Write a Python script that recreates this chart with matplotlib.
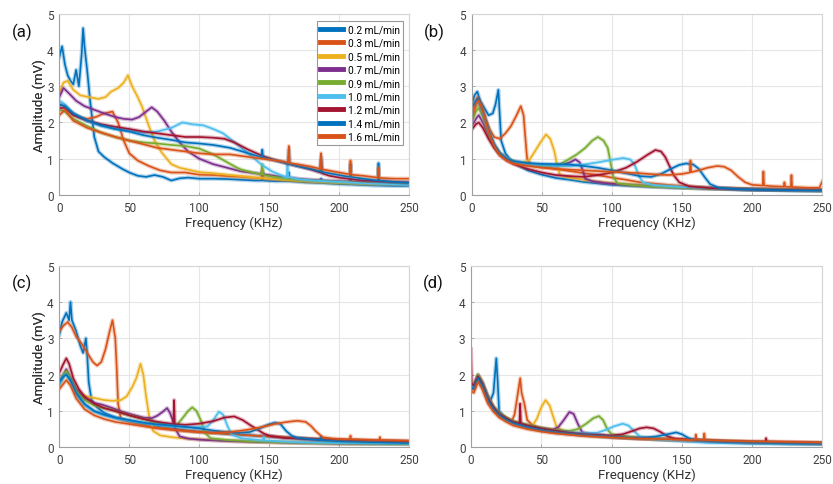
import matplotlib
matplotlib.use("Agg")
import matplotlib.pyplot as plt
from matplotlib.lines import Line2D

plt.rcParams['font.family'] = ['Roboto', 'DejaVu Sans']

labels = ['0.2 mL/min', '0.3 mL/min', '0.5 mL/min', '0.7 mL/min', '0.9 mL/min',
          '1.0 mL/min', '1.2 mL/min', '1.4 mL/min', '1.6 mL/min']
colors = ['#0072BD', '#D95319', '#EDB120', '#7E2F8E', '#77AC30',
          '#4DBEEE', '#A2142F', '#0072BD', '#D95319']
panel_names = ['(a)', '(b)', '(c)', '(d)']
x_ticks = [0, 50, 100, 150, 200, 250]
y_ticks = [0, 1, 2, 3, 4, 5]

# ---------------- panel (a): (frequency kHz, amplitude mV) ----------------
a_02 = [(0,3.8),(2,4.1),(4,3.6),(6,3.3),(8,3.15),(10,3.05),(12,3.45),(14,3.0),(16,3.9),(17,4.6),(18,4.1),(20,3.4),(22,2.6),(25,1.6),(28,1.2),(32,1.05),(38,0.88),(45,0.72),(50,0.62),(56,0.53),(62,0.5),(68,0.55),(74,0.5),(80,0.4),(86,0.46),(92,0.48),(100,0.45),(110,0.45),(120,0.44),(130,0.42),(140,0.4),(144.5,0.4),(145,0.65),(145.5,0.4),(155,0.38),(163.5,0.38),(164,0.62),(164.5,0.38),(175,0.35),(186.5,0.33),(187,0.45),(187.5,0.33),(200,0.3),(207.5,0.29),(208,0.42),(208.5,0.29),(220,0.27),(227.5,0.26),(228,0.38),(228.5,0.26),(240,0.25),(250,0.25)]
a_03 = [(0,2.5),(4,2.45),(8,2.3),(14,2.15),(20,2.1),(26,2.15),(32,2.25),(38,2.3),(42,2.0),(46,1.5),(50,1.15),(56,0.95),(64,0.8),(72,0.68),(80,0.62),(90,0.62),(100,0.56),(110,0.55),(120,0.52),(130,0.5),(140,0.47),(144.5,0.46),(145,0.7),(145.5,0.46),(160,0.42),(175,0.38),(190,0.36),(200,0.34),(220,0.32),(235,0.3),(250,0.3)]
a_05 = [(0,2.8),(3,3.1),(6,3.15),(10,2.9),(15,2.75),(21,2.7),(28,2.65),(33,2.7),(37,2.85),(42,2.95),(46,3.1),(49,3.3),(52,3.0),(56,2.7),(59,2.45),(64,1.9),(68,1.5),(73,1.18),(80,0.85),(86,0.75),(92,0.7),(100,0.63),(110,0.6),(120,0.56),(130,0.52),(140,0.48),(145,0.47),(150,0.45),(160,0.42),(175,0.38),(190,0.35),(210,0.32),(230,0.3),(250,0.3)]
a_07 = [(0,2.7),(3,2.95),(7,2.8),(12,2.6),(18,2.45),(25,2.35),(32,2.25),(40,2.15),(46,2.1),(52,2.08),(57,2.15),(62,2.3),(66,2.42),(70,2.3),(75,2.05),(80,1.75),(86,1.45),(92,1.2),(100,1.0),(110,0.85),(120,0.75),(130,0.65),(140,0.6),(150,0.55),(160,0.5),(170,0.45),(180,0.42),(200,0.38),(220,0.35),(250,0.3)]
a_09 = [(0,2.35),(4,2.3),(10,2.1),(20,1.9),(30,1.72),(40,1.6),(50,1.5),(60,1.45),(70,1.42),(80,1.38),(90,1.35),(100,1.28),(110,1.12),(120,0.9),(127,0.75),(130,0.7),(140,0.6),(144.5,0.57),(145,0.85),(145.5,0.56),(150,0.52),(160,0.46),(170,0.42),(180,0.4),(200,0.36),(220,0.33),(250,0.3)]
a_10 = [(0,2.6),(4,2.5),(10,2.25),(20,2.05),(30,1.9),(40,1.82),(50,1.78),(60,1.72),(70,1.75),(80,1.85),(88,2.0),(95,1.95),(103,1.92),(110,1.82),(117,1.7),(122,1.55),(130,1.3),(138,1.05),(145,0.82),(152,0.65),(158,0.55),(162.5,0.48),(163,0.9),(163.5,0.5),(170,0.44),(180,0.4),(200,0.36),(220,0.32),(250,0.28)]
a_12 = [(0,2.4),(4,2.4),(10,2.2),(20,2.05),(30,1.95),(40,1.88),(50,1.82),(60,1.75),(70,1.7),(80,1.65),(90,1.6),(100,1.6),(110,1.58),(118,1.55),(125,1.45),(135,1.25),(145,1.08),(155,0.95),(165,0.85),(170,0.8),(180,0.7),(186.5,0.62),(187,0.95),(187.5,0.6),(193,0.53),(200,0.48),(210,0.43),(217,0.4),(230,0.38),(246,0.35),(250,0.35)]
a_14 = [(0,2.5),(4,2.45),(10,2.25),(20,2.05),(30,1.92),(40,1.82),(50,1.75),(60,1.65),(70,1.58),(80,1.52),(90,1.45),(100,1.42),(110,1.38),(122,1.3),(135,1.15),(144.5,1.04),(145,1.25),(145.5,1.03),(155,0.95),(163.5,0.86),(164,1.25),(164.5,0.85),(170,0.8),(180,0.72),(186.5,0.65),(187,1.05),(187.5,0.64),(193,0.6),(200,0.55),(207.5,0.5),(208,0.85),(208.5,0.5),(217,0.45),(227.5,0.4),(228,0.88),(228.5,0.4),(240,0.36),(250,0.34)]
a_16 = [(0,2.2),(4,2.35),(10,2.05),(20,1.85),(30,1.72),(40,1.6),(50,1.5),(60,1.4),(70,1.3),(80,1.25),(90,1.2),(100,1.15),(110,1.12),(122,1.12),(135,1.05),(145,1.0),(155,0.95),(163.5,0.9),(164,1.35),(164.5,0.88),(170,0.85),(180,0.78),(186.5,0.72),(187,1.15),(187.5,0.71),(193,0.67),(200,0.62),(207.5,0.57),(208,0.95),(208.5,0.56),(217,0.53),(227.5,0.48),(228,0.75),(228.5,0.47),(240,0.45),(250,0.45)]

# ---------------- panel (b) ----------------
b_02 = [(0,2.5),(2,2.75),(4,2.85),(6,2.6),(9,2.4),(12,2.2),(15,2.25),(17,2.5),(19,2.9),(20,2.2),(21,1.5),(24,1.15),(28,0.95),(34,0.8),(40,0.68),(50,0.56),(60,0.47),(70,0.42),(80,0.36),(90,0.32),(100,0.28),(120,0.24),(140,0.21),(160,0.19),(180,0.17),(200,0.15),(225,0.14),(250,0.13)]
b_03 = [(0,2.2),(2,2.5),(4,2.7),(7,2.5),(10,2.1),(13,1.8),(16,1.6),(20,1.55),(24,1.7),(28,1.9),(32,2.2),(35,2.45),(37,2.2),(38,1.7),(39.5,1.0),(42,0.85),(50,0.78),(60,0.72),(70,0.66),(80,0.6),(90,0.55),(100,0.48),(110,0.42),(120,0.35),(140,0.28),(160,0.22),(180,0.19),(200,0.17),(225,0.15),(250,0.14)]
b_05 = [(0,2.1),(3,2.4),(5,2.5),(8,2.2),(12,1.7),(16,1.35),(20,1.15),(25,1.0),(30,0.92),(36,0.88),(41,0.96),(45,1.2),(49,1.45),(53,1.67),(56,1.55),(59,1.2),(61,0.8),(63,0.55),(70,0.48),(80,0.42),(90,0.37),(100,0.33),(120,0.27),(140,0.23),(160,0.2),(180,0.18),(200,0.16),(225,0.14),(250,0.13)]
b_07 = [(0,1.9),(3,2.1),(5,2.2),(8,2.0),(12,1.65),(16,1.35),(20,1.15),(25,1.0),(30,0.92),(40,0.84),(50,0.8),(60,0.8),(66,0.85),(70,0.9),(74,0.98),(77,0.9),(79,0.7),(81,0.45),(86,0.38),(95,0.33),(110,0.28),(130,0.24),(150,0.2),(175,0.17),(200,0.15),(250,0.12)]
b_09 = [(0,2.0),(3,2.3),(5,2.4),(8,2.15),(12,1.7),(16,1.35),(20,1.15),(25,1.0),(30,0.92),(40,0.84),(50,0.8),(58,0.8),(63,0.85),(69,0.98),(75,1.12),(81,1.3),(86,1.5),(90,1.6),(94,1.5),(97,1.3),(99,0.9),(101,0.5),(104,0.32),(115,0.27),(130,0.23),(150,0.2),(175,0.17),(200,0.15),(250,0.12)]
b_10 = [(0,2.2),(3,2.5),(5,2.55),(8,2.25),(12,1.75),(16,1.4),(20,1.15),(25,1.0),(30,0.92),(40,0.85),(50,0.82),(60,0.8),(70,0.8),(80,0.84),(90,0.9),(100,0.97),(108,1.02),(113,0.98),(116,0.85),(119,0.55),(122,0.35),(130,0.27),(150,0.22),(175,0.18),(200,0.15),(225,0.13),(250,0.12)]
b_12 = [(0,1.8),(3,1.95),(5,2.0),(8,1.85),(12,1.55),(16,1.3),(20,1.1),(25,0.95),(30,0.85),(40,0.72),(50,0.62),(60,0.55),(70,0.52),(80,0.5),(90,0.55),(100,0.62),(110,0.75),(118,0.92),(125,1.1),(131,1.24),(135,1.2),(138,1.05),(141,0.8),(144,0.55),(148,0.35),(155,0.24),(170,0.19),(200,0.15),(225,0.14),(250,0.13)]
b_14 = [(0,2.4),(3,2.6),(5,2.65),(8,2.3),(12,1.8),(16,1.4),(20,1.15),(25,1.0),(30,0.93),(40,0.88),(50,0.86),(60,0.85),(70,0.84),(80,0.8),(90,0.75),(100,0.68),(110,0.6),(120,0.52),(128,0.5),(135,0.58),(142,0.72),(148,0.83),(153,0.87),(158,0.84),(162,0.72),(166,0.5),(170,0.3),(176,0.2),(190,0.16),(210,0.14),(230,0.13),(250,0.13)]
b_16 = [(0,2.1),(3,2.5),(5,2.6),(8,2.3),(12,1.75),(16,1.35),(20,1.1),(25,0.95),(30,0.86),(40,0.8),(50,0.75),(60,0.72),(70,0.7),(80,0.68),(90,0.66),(100,0.64),(110,0.62),(120,0.6),(130,0.57),(140,0.55),(150,0.58),(155.5,0.62),(156,0.95),(156.5,0.63),(162,0.68),(168,0.75),(175,0.8),(180,0.78),(185,0.68),(190,0.5),(195,0.35),(200,0.28),(207.5,0.26),(208,0.65),(208.5,0.26),(215,0.24),(222.5,0.23),(223,0.35),(223.5,0.23),(227.5,0.22),(228,0.55),(228.5,0.22),(240,0.2),(248,0.2),(250,0.38)]

# ---------------- panel (c) ----------------
c_02 = [(0,3.1),(2,3.45),(5,3.7),(7,3.5),(8,4.0),(9,3.5),(12,3.2),(15,2.8),(17,2.6),(19,3.0),(20,2.5),(21,1.8),(23,1.3),(27,1.1),(32,0.95),(40,0.82),(50,0.72),(60,0.64),(70,0.57),(80,0.52),(90,0.47),(100,0.43),(120,0.37),(140,0.32),(160,0.27),(180,0.22),(200,0.19),(225,0.17),(250,0.15)]
c_03 = [(0,3.2),(3,3.35),(6,3.45),(9,3.3),(12,3.05),(16,2.85),(20,2.6),(24,2.35),(27,2.25),(30,2.35),(33,2.7),(36,3.2),(38,3.5),(40,3.0),(41,2.2),(42,1.2),(44,0.78),(50,0.7),(60,0.62),(70,0.55),(80,0.5),(90,0.45),(100,0.42),(120,0.37),(140,0.32),(160,0.28),(180,0.24),(200,0.2),(225,0.17),(250,0.15)]
c_05 = [(0,1.7),(3,1.95),(5,2.1),(8,1.9),(12,1.6),(16,1.45),(20,1.4),(26,1.35),(32,1.3),(38,1.28),(44,1.3),(48,1.4),(52,1.65),(55,1.9),(58,2.3),(60,2.0),(62,1.4),(64,0.9),(67,0.45),(72,0.33),(80,0.28),(90,0.24),(100,0.22),(120,0.18),(140,0.15),(170,0.12),(200,0.1),(250,0.09)]
c_07 = [(0,1.8),(3,2.0),(5,2.15),(8,1.9),(12,1.6),(18,1.35),(25,1.22),(30,1.18),(38,1.08),(45,0.98),(52,0.9),(60,0.82),(66,0.8),(70,0.87),(74,0.98),(77,1.08),(79,0.95),(81,0.75),(83,0.5),(86,0.3),(92,0.24),(100,0.21),(120,0.17),(140,0.15),(170,0.12),(200,0.1),(250,0.09)]
c_09 = [(0,1.75),(3,2.0),(5,2.1),(8,1.9),(12,1.55),(18,1.3),(25,1.15),(32,1.08),(40,1.0),(50,0.88),(60,0.78),(70,0.68),(78,0.6),(84,0.62),(88,0.8),(92,1.0),(95,1.1),(98,1.0),(101,0.75),(104,0.4),(108,0.25),(120,0.2),(140,0.16),(170,0.13),(200,0.11),(250,0.09)]
c_10 = [(0,1.7),(3,1.95),(5,2.0),(8,1.8),(12,1.45),(18,1.15),(25,0.98),(32,0.88),(40,0.8),(50,0.72),(60,0.66),(70,0.61),(80,0.58),(90,0.56),(100,0.55),(106,0.58),(110,0.75),(114,0.98),(117,0.9),(120,0.6),(123,0.35),(130,0.25),(145.5,0.19),(146,0.3),(146.5,0.19),(170,0.14),(200,0.12),(250,0.1)]
c_12 = [(0,2.05),(3,2.3),(5,2.45),(7,2.3),(10,1.9),(14,1.6),(18,1.4),(25,1.2),(32,1.08),(40,1.0),(50,0.88),(60,0.78),(70,0.7),(80,0.65),(81.5,0.65),(82,1.3),(82.5,0.64),(90,0.62),(100,0.65),(110,0.72),(118,0.82),(125,0.85),(131,0.75),(136,0.62),(141,0.5),(146,0.38),(150,0.32),(160,0.26),(180,0.22),(200,0.2),(225,0.18),(250,0.16)]
c_14 = [(0,1.8),(3,1.95),(5,2.0),(8,1.85),(12,1.5),(18,1.2),(25,1.0),(32,0.9),(40,0.82),(50,0.75),(60,0.68),(70,0.63),(80,0.6),(90,0.56),(100,0.52),(110,0.46),(120,0.42),(128,0.4),(136,0.42),(143,0.52),(149,0.62),(154,0.68),(158,0.64),(162,0.45),(166,0.32),(170,0.26),(180,0.22),(186.5,0.2),(187,0.3),(187.5,0.2),(200,0.17),(225,0.14),(250,0.12)]
c_16 = [(0,1.6),(3,1.75),(5,1.85),(8,1.7),(12,1.35),(18,1.05),(25,0.88),(32,0.78),(40,0.7),(50,0.64),(60,0.58),(70,0.52),(80,0.48),(90,0.45),(100,0.42),(110,0.4),(122,0.42),(132,0.47),(140,0.52),(146,0.57),(155,0.65),(163,0.7),(170,0.73),(176,0.7),(180,0.58),(183,0.45),(188,0.28),(195,0.24),(205,0.22),(207.5,0.22),(208,0.32),(208.5,0.22),(225,0.2),(228.5,0.2),(229,0.28),(229.5,0.2),(250,0.18)]

# ---------------- panel (d) ----------------
d_02 = [(0,1.7),(2,1.65),(5,1.95),(8,1.75),(11,1.45),(14,1.3),(16,1.5),(18,2.45),(19,1.8),(20,1.0),(24,0.82),(30,0.68),(40,0.56),(50,0.48),(60,0.42),(80,0.34),(100,0.28),(120,0.24),(150,0.19),(180,0.15),(200,0.13),(225,0.11),(250,0.1)]
d_03 = [(0,1.6),(2,1.6),(5,1.9),(8,1.7),(12,1.3),(16,1.05),(20,0.9),(25,0.78),(29,0.72),(31,0.9),(33,1.4),(35,1.9),(36,1.5),(38,1.2),(40,0.75),(44,0.6),(50,0.5),(60,0.43),(80,0.34),(100,0.28),(120,0.24),(150,0.19),(180,0.15),(200,0.13),(225,0.11),(250,0.1)]
d_05 = [(0,1.7),(2,1.65),(5,1.95),(8,1.75),(12,1.35),(16,1.1),(20,0.92),(25,0.8),(30,0.7),(38,0.6),(44,0.6),(47,0.8),(50,1.1),(53,1.3),(56,1.15),(58,0.9),(61,0.55),(66,0.45),(80,0.36),(100,0.3),(120,0.25),(150,0.2),(180,0.16),(200,0.14),(225,0.12),(250,0.11)]
d_07 = [(0,1.75),(2,1.7),(5,2.0),(8,1.8),(12,1.4),(16,1.1),(20,0.92),(25,0.8),(30,0.7),(40,0.6),(50,0.52),(58,0.48),(62,0.55),(66,0.75),(70,0.97),(73,0.92),(76,0.65),(79,0.42),(85,0.36),(100,0.3),(120,0.25),(150,0.2),(180,0.16),(200,0.14),(225,0.12),(250,0.11)]
d_09 = [(0,1.75),(2,1.7),(5,2.0),(8,1.8),(12,1.4),(16,1.12),(20,0.95),(25,0.82),(30,0.72),(40,0.62),(50,0.54),(60,0.48),(70,0.45),(76,0.5),(82,0.65),(87,0.8),(91,0.86),(94,0.75),(97,0.5),(100,0.36),(110,0.3),(120,0.26),(150,0.2),(180,0.16),(200,0.14),(225,0.12),(250,0.11)]
d_10 = [(0,1.7),(2,1.65),(5,1.9),(8,1.7),(12,1.3),(16,1.05),(20,0.88),(25,0.76),(30,0.66),(40,0.56),(50,0.48),(60,0.44),(70,0.41),(80,0.39),(90,0.4),(96,0.48),(102,0.58),(108,0.65),(112,0.6),(116,0.45),(120,0.3),(130,0.22),(150,0.17),(170,0.12),(200,0.1),(225,0.09),(250,0.08)]
d_12 = [(0,2.7),(0.5,1.75),(2,1.7),(5,1.95),(8,1.75),(12,1.35),(16,1.1),(20,0.92),(25,0.8),(30,0.7),(34.5,0.66),(35,1.2),(35.5,0.65),(40,0.6),(50,0.52),(60,0.46),(70,0.4),(80,0.36),(90,0.34),(100,0.32),(108,0.36),(115,0.45),(120,0.52),(125,0.55),(130,0.52),(135,0.42),(140,0.3),(145,0.24),(160,0.2),(180,0.17),(200,0.15),(209.5,0.15),(210,0.25),(210.5,0.15),(225,0.14),(250,0.12)]
d_14 = [(0,1.65),(2,1.6),(5,1.9),(8,1.7),(12,1.3),(16,1.05),(20,0.88),(25,0.76),(30,0.66),(40,0.55),(50,0.47),(60,0.41),(80,0.34),(100,0.29),(115,0.26),(125,0.27),(132,0.3),(140,0.36),(146,0.41),(150,0.36),(155,0.25),(160,0.2),(180,0.15),(200,0.13),(225,0.11),(250,0.1)]
d_16 = [(0,1.55),(2,1.5),(5,1.8),(8,1.6),(12,1.2),(16,0.98),(20,0.82),(25,0.7),(30,0.6),(40,0.5),(50,0.43),(60,0.38),(80,0.31),(100,0.27),(120,0.24),(140,0.22),(155,0.2),(159.5,0.2),(160,0.35),(160.5,0.21),(165,0.2),(165.5,0.2),(166,0.38),(166.5,0.2),(180,0.18),(200,0.16),(225,0.15),(250,0.13)]

panels = [
    [a_02, a_03, a_05, a_07, a_09, a_10, a_12, a_14, a_16],
    [b_02, b_03, b_05, b_07, b_09, b_10, b_12, b_14, b_16],
    [c_02, c_03, c_05, c_07, c_09, c_10, c_12, c_14, c_16],
    [d_02, d_03, d_05, d_07, d_09, d_10, d_12, d_14, d_16],
]

W, H = 833, 485
fig = plt.figure(figsize=(W / 100, H / 100), dpi=100)

# axes boxes in pixels: left, top, right, bottom
boxes = [(59.3, 14.7, 409.3, 196.0), (471.7, 14.7, 822.3, 196.0),
         (59.3, 266.7, 409.3, 448.3), (471.0, 266.7, 822.3, 448.3)]
label_pos = [(22, 32), (434, 32), (22, 283), (433, 283)]

axes = []
for i, (l, t, r, b) in enumerate(boxes):
    ax = fig.add_axes([l / W, 1 - b / H, (r - l) / W, (b - t) / H])
    axes.append(ax)
    wpx, hpx = r - l, b - t
    for series, col in zip(panels[i], colors):
        xs = [p[0] for p in series]
        ys = [p[1] for p in series]
        ax.plot(xs, ys, color=col, lw=3.0, alpha=0.3, solid_joinstyle='round')
        ax.plot(xs, ys, color=col, lw=1.2, solid_joinstyle='round')
    ax.set_xlim(0, 250)
    ax.set_ylim(0, 5)
    ax.set_xticks(x_ticks)
    ax.set_yticks(y_ticks)
    ax.grid(True, color='#e6e6e6', lw=0.8)
    ax.set_axisbelow(True)
    for s in ['top', 'right']:
        ax.spines[s].set_color('#d4d4d4')
    for s in ['left', 'bottom']:
        ax.spines[s].set_color('#a0a0a0')
    for s in ax.spines.values():
        s.set_linewidth(0.8)
    ax.tick_params(direction='in', length=2.5, width=0.6, color='#a0a0a0',
                   labelsize=8.5, labelcolor='#404040', pad=4)
    ax.text(-(l - 39) / wpx, 0.5, 'Amplitude (mV)', rotation=90, ha='center',
            va='center', fontsize=9.5, color='#333333', transform=ax.transAxes)
    ax.text(0.5, -27 / hpx, 'Frequency (KHz)', ha='center', va='center',
            fontsize=9.5, color='#333333', transform=ax.transAxes)
    fig.text(label_pos[i][0] / W, 1 - label_pos[i][1] / H, panel_names[i],
             ha='center', va='center', fontsize=12, color='#111111')

ax = axes[0]
handles = [Line2D([0], [0], color=c, lw=3.5) for c in colors]
leg = ax.legend(handles, labels, loc='upper right',
                bbox_to_anchor=(1 - 6 / 350, 1 - 7 / 181.3), borderaxespad=0,
                fontsize=7.3, handlelength=2.2, handletextpad=0.5,
                labelspacing=0.34, borderpad=0.35, fancybox=False,
                edgecolor='#999999', framealpha=1)
leg.get_frame().set_linewidth(0.8)

fig.savefig('out.png', dpi=100)
